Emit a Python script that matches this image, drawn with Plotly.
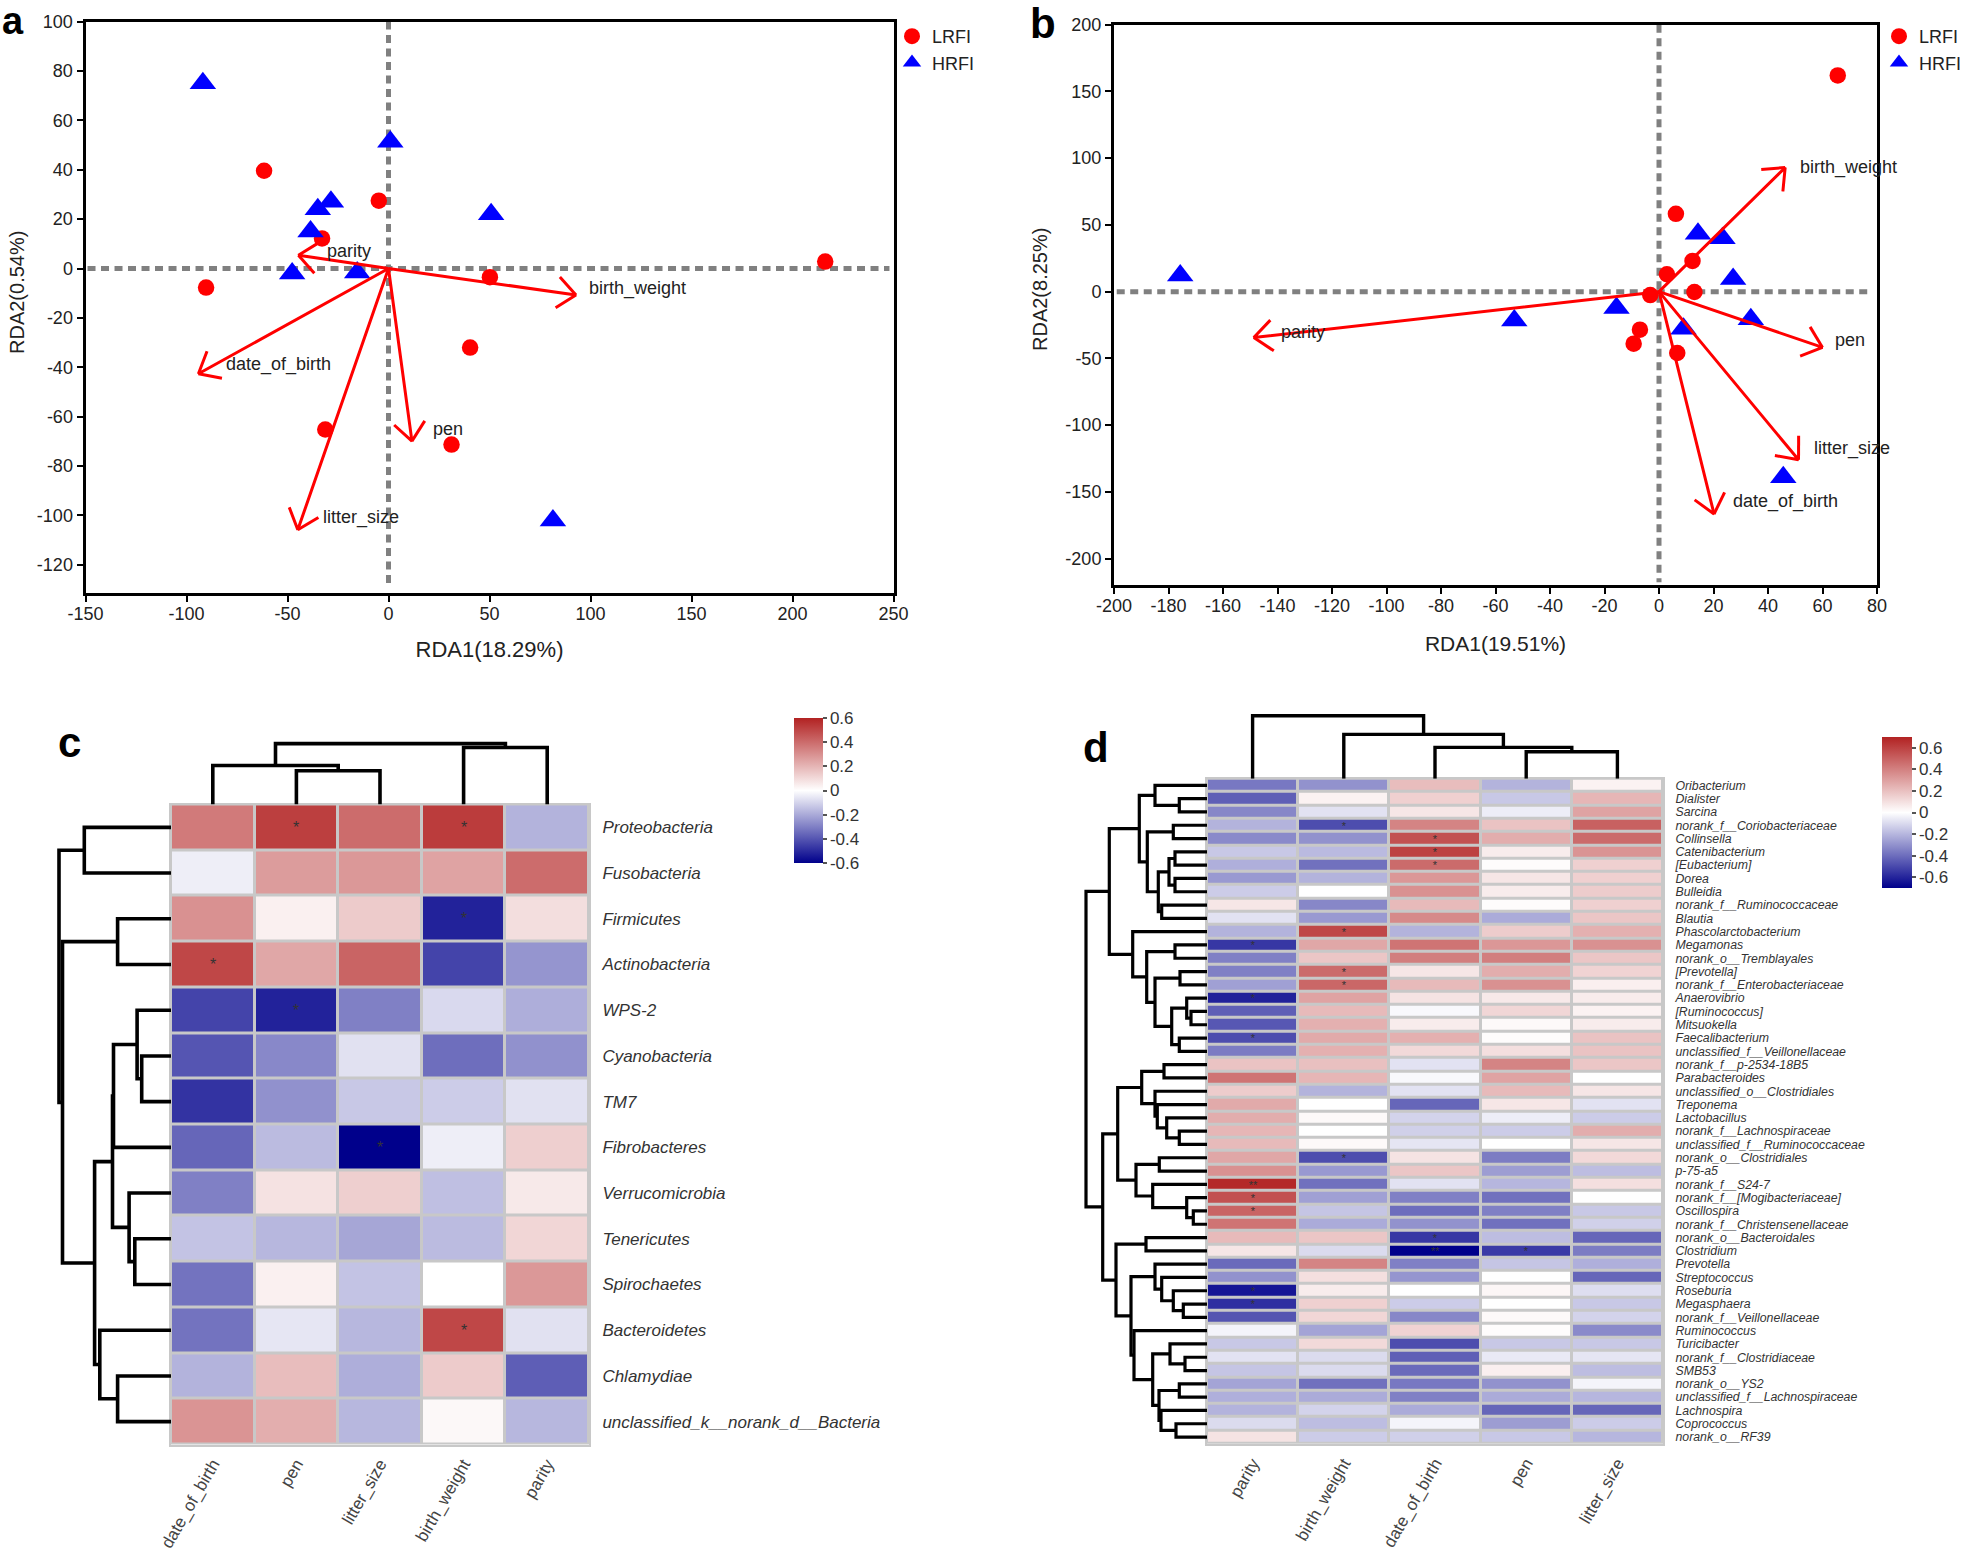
import plotly.graph_objects as go
import math

W, H = 1961, 1552

# ---------- Panel a data ----------
a_lrfi_x = [-61.6, -4.8, -32.9, -90.3, 50.2, 216.2, 40.4, -31.3, 31.2]
a_lrfi_y = [39.6, 27.5, 12.2, -7.7, -3.5, 2.8, -32.0, -65.2, -71.3]
a_hrfi_x = [-91.9, 0.9, -28.5, -35.0, -38.6, 50.8, -47.7, -15.5, 81.4]
a_hrfi_y = [75.0, 51.3, 27.0, 24.0, 15.0, 22.0, -2.0, -1.6, -102.0]
a_vec_names = ["parity", "birth_weight", "date_of_birth", "litter_size", "pen"]
a_vec_x = [-44.6, 92.8, -94.1, -44.9, 11.6]
a_vec_y = [5.4, -10.7, -42.6, -105.8, -69.9]
a_lab_x = [-31.3, 98.1, -81.2, -33.5, 20.8]
a_lab_y = [7.2, -8.2, -38.9, -100.9, -65.0]
a_xticks = [-150, -100, -50, 0, 50, 100, 150, 200, 250]
a_yticks = [100, 80, 60, 40, 20, 0, -20, -40, -60, -80, -100, -120]

# ---------- Panel b data ----------
b_lrfi_x = [65.6, 6.2, 12.3, 2.9, 13.0, -3.2, -7.0, -9.3, 6.7]
b_lrfi_y = [162.0, 58.3, 23.0, 13.0, -0.3, -2.6, -28.5, -39.0, -46.0]
b_hrfi_x = [-175.7, -53.1, -15.6, 14.3, 23.3, 27.2, 33.7, 9.0, 45.6]
b_hrfi_y = [12.0, -21.7, -12.3, 43.4, 40.0, 9.4, -20.7, -27.9, -139.0]
b_vec_names = ["parity", "birth_weight", "litter_size", "date_of_birth", "pen"]
b_vec_x = [-148.7, 46.3, 51.2, 20.2, 60.0]
b_vec_y = [-34.4, 93.0, -126.0, -166.6, -41.8]
b_lab_x = [-139.3, 51.0, 56.2, 26.3, 64.0]
b_lab_y = [-30.5, 92.7, -117.7, -156.9, -36.3]
b_xticks = [-200, -180, -160, -140, -120, -100, -80, -60, -40, -20, 0, 20, 40, 60, 80]
b_yticks = [200, 150, 100, 50, 0, -50, -100, -150, -200]

# ---------- Panel c data ----------
c_cols = ["date_of_birth", "pen", "litter_size", "birth_weight", "parity"]
c_rows = ["Proteobacteria", "Fusobacteria", "Firmicutes", "Actinobacteria", "WPS-2",
          "Cyanobacteria", "TM7", "Fibrobacteres", "Verrucomicrobia", "Tenericutes",
          "Spirochaetes", "Bacteroidetes", "Chlamydiae", "unclassified_k__norank_d__Bacteria"]
c_values = [
    [0.36, 0.52, 0.40, 0.53, -0.18],
    [-0.04, 0.27, 0.28, 0.25, 0.40],
    [0.30, 0.04, 0.14, -0.52, 0.09],
    [0.50, 0.24, 0.42, -0.44, -0.25],
    [-0.44, -0.52, -0.30, -0.09, -0.19],
    [-0.40, -0.28, -0.07, -0.34, -0.26],
    [-0.48, -0.26, -0.13, -0.12, -0.07],
    [-0.36, -0.16, -0.60, -0.04, 0.13],
    [-0.30, 0.08, 0.13, -0.15, 0.06],
    [-0.14, -0.17, -0.21, -0.16, 0.11],
    [-0.33, 0.04, -0.14, 0.00, 0.28],
    [-0.33, -0.06, -0.17, 0.50, -0.07],
    [-0.18, 0.18, -0.19, 0.14, -0.38],
    [0.29, 0.22, -0.17, 0.02, -0.17],
]
c_stars = {(0, 1): "*", (0, 3): "*", (2, 3): "*", (3, 0): "*", (4, 1): "*", (7, 2): "*", (11, 3): "*"}
# dendrograms: (height, left, right); integers are leaves
c_row_tree = (112, (86.7, 0, 1),
              (108.5, (53.4, 2, 3),
               (76.4,
                (58.5, (57.5, (33.9, 4, (29.3, 5, 6)), 7), (41.9, 8, (36.2, 9, 10))),
                (71.2, 11, (53.4, 12, 13)))))
c_col_tree = (60.9, (39, 0, (33.7, 1, 2)), (57, 3, 4))

# ---------- Panel d data ----------
d_cols = ["parity", "birth_weight", "date_of_birth", "pen", "litter_size"]
d_rows = ["Oribacterium", "Dialister", "Sarcina", "norank_f__Coriobacteriaceae", "Collinsella",
          "Catenibacterium", "[Eubacterium]", "Dorea", "Bulleidia", "norank_f__Ruminococcaceae",
          "Blautia", "Phascolarctobacterium", "Megamonas", "norank_o__Tremblayales", "[Prevotella]",
          "norank_f__Enterobacteriaceae", "Anaerovibrio", "[Ruminococcus]", "Mitsuokella",
          "Faecalibacterium", "unclassified_f__Veillonellaceae", "norank_f__p-2534-18B5",
          "Parabacteroides", "unclassified_o__Clostridiales", "Treponema", "Lactobacillus",
          "norank_f__Lachnospiraceae", "unclassified_f__Ruminococcaceae", "norank_o__Clostridiales",
          "p-75-a5", "norank_f__S24-7", "norank_f__[Mogibacteriaceae]", "Oscillospira",
          "norank_f__Christensenellaceae", "norank_o__Bacteroidales", "Clostridium", "Prevotella",
          "Streptococcus", "Roseburia", "Megasphaera", "norank_f__Veillonellaceae", "Ruminococcus",
          "Turicibacter", "norank_f__Clostridiaceae", "SMB53", "norank_o__YS2",
          "unclassified_f__Lachnospiraceae", "Lachnospira", "Coprococcus", "norank_o__RF39"]
d_values = [
    [-0.37, -0.30, 0.21, -0.21, 0.04], [-0.44, 0.04, 0.15, -0.15, 0.23],
    [-0.33, -0.08, 0.08, -0.05, 0.29], [-0.21, -0.49, 0.39, 0.19, 0.50],
    [-0.32, -0.30, 0.55, 0.26, 0.47], [-0.15, -0.19, 0.60, 0.06, 0.34],
    [-0.22, -0.39, 0.47, 0.01, 0.15], [-0.28, -0.21, 0.33, 0.08, 0.15],
    [-0.14, 0.00, 0.35, 0.06, 0.16], [0.08, -0.33, 0.22, 0.01, 0.15],
    [-0.08, -0.28, 0.37, -0.23, 0.18], [-0.21, 0.58, -0.21, 0.16, 0.25],
    [-0.55, 0.28, 0.44, 0.33, 0.35], [-0.35, 0.18, 0.41, 0.41, 0.18],
    [-0.35, 0.47, 0.08, 0.26, 0.14], [-0.26, 0.48, 0.22, 0.35, 0.05],
    [-0.61, 0.29, 0.09, 0.07, 0.06], [-0.44, 0.22, -0.02, 0.13, 0.04],
    [-0.46, 0.25, 0.06, 0.02, 0.06], [-0.49, 0.27, 0.25, 0.01, 0.19],
    [-0.36, 0.25, 0.12, 0.10, 0.19], [0.19, 0.20, -0.08, 0.39, 0.18],
    [0.44, 0.23, -0.02, 0.29, 0.00], [0.16, -0.21, -0.08, 0.22, 0.08],
    [0.27, 0.00, -0.42, 0.08, -0.08], [0.26, 0.02, -0.12, -0.05, -0.14],
    [0.23, 0.00, -0.13, -0.14, 0.26], [0.22, 0.02, -0.07, 0.00, 0.08],
    [0.28, -0.49, 0.09, -0.36, 0.12], [0.35, -0.28, 0.18, -0.27, -0.18],
    [0.68, -0.39, -0.08, -0.20, 0.10], [0.55, -0.26, -0.35, -0.39, 0.00],
    [0.49, -0.16, -0.40, -0.35, -0.15], [0.44, -0.23, -0.30, -0.39, -0.13],
    [0.22, 0.18, -0.55, -0.18, -0.42], [0.08, -0.10, -0.70, -0.54, -0.36],
    [-0.41, 0.39, -0.35, -0.16, -0.22], [-0.30, 0.10, -0.29, 0.00, -0.42],
    [-0.64, 0.06, 0.00, 0.03, -0.09], [-0.57, 0.15, -0.14, 0.00, -0.15],
    [-0.47, 0.13, -0.33, 0.02, -0.12], [-0.03, -0.25, 0.14, 0.01, -0.32],
    [-0.15, 0.12, -0.49, -0.15, -0.15], [-0.08, -0.10, -0.44, -0.06, -0.07],
    [-0.16, -0.10, -0.41, 0.05, -0.18], [-0.25, -0.39, -0.37, -0.30, -0.03],
    [-0.22, -0.23, -0.35, -0.23, -0.20], [-0.21, -0.12, -0.23, -0.42, -0.42],
    [-0.10, -0.18, -0.03, -0.27, -0.14], [0.09, -0.14, -0.13, -0.15, -0.20],
]
d_stars = {(3, 1): "*", (4, 2): "*", (5, 2): "*", (6, 2): "*", (11, 1): "*", (12, 0): "*",
           (14, 1): "*", (15, 1): "*", (16, 0): "*", (19, 0): "*", (28, 1): "*", (30, 0): "**",
           (31, 0): "*", (32, 0): "*", (34, 2): "*", (35, 2): "**", (35, 3): "*", (38, 0): "*",
           (39, 0): "*"}
d_row_tree = (
    121,
    (97.7,
     (67.7, (52, 0, (27.7, 1, 2)),
      (59.7, (33.7, 3, 4),
       (48.7, (38, (32, 5, 6), (32, 7, 8)), (45.3, 9, 10)))),
     (74.3, 11,
      (60.3, (32, 12, 13),
       (52, (27, 14, 15),
        (35.3, (20.3, 16, (16, 17, 18)), (27.7, 19, 20)))))),
    (104.3,
     (89.3,
      (65.3, (43, 21, 22), (52, 23, (49.7, 24, (40.3, 25, (27.7, 26, 27))))),
      (71, (47.7, 28, 29), (54.3, 30, (20.3, 31, (13.7, 32, 33))))),
     (91, (61, 34, 35),
      (76,
       (52, 36, (45.3, 37, (33.7, 38, (23.7, 39, 40)))),
       (73, 41,
        (54.3, (37, 42, (22, 43, 44)),
         (48, (27.7, 45, 46), (46, 47, (31, 48, 49)))))))))
d_col_tree = (63, 0, (44.3, 1, (31.3, 2, (27, 3, 4))))

cbar_vals = [0.6, 0.4, 0.2, 0, -0.2, -0.4, -0.6]
cbar_text = ["0.6", "0.4", "0.2", "0", "-0.2", "-0.4", "-0.6"]

# ---------- Layout geometry (pixels) ----------
FONT = "Liberation Sans"
INK = "#222222"
RED, BLUE = "#FF0000", "#0000FF"
GREY = "#808080"
CELL_BG = "#C8C8C8"
SCALE = [[0, "#00008B"], [0.5, "#FFFFFF"], [1, "#B22222"]]


def dx(a, b):
    return [a / W, b / W]


def dy(top, bottom):
    return [1 - bottom / H, 1 - top / H]


A_BOX = (85.5, 893.5, 21.6, 593)
B_BOX = (1114, 1877, 24.7, 585)
A_RX, A_RY = [-150, 250], [-131.4, 100]
B_RX, B_RY = [-200, 80], [-219.8, 200]
C_BOX = (171, 589, 804.5, 1444.5)
D_BOX = (1207, 1663, 778.7, 1443.7)

fig = go.Figure()


def tree_lines(tree):
    pos, hgt = [], []

    def walk(node):
        if isinstance(node, int):
            return float(node), 0.0
        h, left, right = node
        p1, h1 = walk(left)
        p2, h2 = walk(right)
        pos.extend([p1, p1, p2, p2, None])
        hgt.extend([h1, h, h, h2, None])
        return (p1 + p2) / 2, h

    walk(tree)
    return pos, hgt


def axis_style(rng, ticks, side_domain, anchor, title=None, title_size=21, standoff=10, label_shift=0):
    ax = dict(range=rng, domain=side_domain, anchor=anchor, tickvals=ticks,
              ticktext=[str(t) for t in ticks], showgrid=False, zeroline=False,
              showline=True, mirror=True, linecolor="black", linewidth=3,
              ticks="outside", ticklen=6, tickwidth=2, tickcolor="black",
              ticklabelstandoff=label_shift,
              tickfont=dict(family=FONT, size=18, color=INK))
    if title:
        ax["title"] = dict(text=title, font=dict(family=FONT, size=title_size, color=INK), standoff=standoff)
    return ax


def scatter_panel(box, rx, ry, lrfi, hrfi, vecs, labs, names, xa, ya, legend):
    x0, x1, y0, y1 = box
    sx = (x1 - x0) / (rx[1] - rx[0])
    sy = (y1 - y0) / (ry[1] - ry[0])
    fig.add_trace(go.Scatter(x=lrfi[0], y=lrfi[1], mode="markers", name="LRFI", xaxis=xa, yaxis=ya,
                             legend=legend,
                             marker=dict(symbol="circle", size=16.5, color=RED)))
    fig.add_trace(go.Scatter(x=hrfi[0], y=hrfi[1], mode="markers", name="HRFI", xaxis=xa, yaxis=ya,
                             legend=legend,
                             marker=dict(symbol="triangle-up", size=23, color=BLUE)))
    barb, half = 24, math.radians(40)
    for name, vx, vy in zip(names, vecs[0], vecs[1]):
        px, py = vx * sx, vy * sy
        n = math.hypot(px, py)
        ux, uy = -px / n, -py / n
        xs, ys = [0, vx], [0, vy]
        for sgn in (1, -1):
            c, s = math.cos(sgn * half), math.sin(sgn * half)
            bx = (ux * c - uy * s) * barb / sx
            by = (ux * s + uy * c) * barb / sy
            xs += [vx + bx, vx, None, vx] if sgn == 1 else [vx + bx]
            ys += [vy + by, vy, None, vy] if sgn == 1 else [vy + by]
        fig.add_trace(go.Scatter(x=xs, y=ys, mode="lines", xaxis=xa, yaxis=ya, showlegend=False,
                                 name=name, line=dict(color=RED, width=3)))
    for name, lx, ly in zip(names, labs[0], labs[1]):
        fig.add_annotation(x=lx, y=ly, xref=xa, yref=ya, text=name, showarrow=False, xanchor="left",
                           yanchor="middle", font=dict(family=FONT, size=18, color=INK))
    ref_line = dict(color=GREY, width=5, dash="8px,5.5px")
    fig.add_shape(type="line", xref=xa, yref=ya, x0=rx[0] + 1, x1=rx[1] - 2, y0=0, y1=0,
                  line=ref_line, layer="below")
    fig.add_shape(type="line", xref=xa, yref=ya, x0=0, x1=0, y0=ry[1], y1=ry[0] + 2,
                  line=ref_line, layer="below")


scatter_panel(A_BOX, A_RX, A_RY, (a_lrfi_x, a_lrfi_y), (a_hrfi_x, a_hrfi_y), (a_vec_x, a_vec_y),
              (a_lab_x, a_lab_y), a_vec_names, "x", "y", "legend")
scatter_panel(B_BOX, B_RX, B_RY, (b_lrfi_x, b_lrfi_y), (b_hrfi_x, b_hrfi_y), (b_vec_x, b_vec_y),
              (b_lab_x, b_lab_y), b_vec_names, "x2", "y2", "legend2")


def star_text(stars, rows, cols):
    return [[stars.get((r, c), "") for c in range(len(cols))] for r in range(len(rows))]


def heat(values, rows, cols, stars, xa, ya, zlim, cb_x, cb_top, cb_len, cb_thick, star_size):
    fig.add_trace(go.Heatmap(
        z=values, x=cols, y=rows, xaxis=xa, yaxis=ya, colorscale=SCALE, zmin=-zlim, zmax=zlim,
        xgap=3, ygap=3, text=star_text(stars, rows, cols), texttemplate="%{text}",
        textfont=dict(family=FONT, size=star_size, color="#333333"),
        colorbar=dict(x=cb_x / W, xanchor="left", y=1 - cb_top / H, yanchor="top", lenmode="pixels",
                      len=cb_len, thicknessmode="pixels", thickness=cb_thick, xpad=0, ypad=0,
                      outlinewidth=0, tickmode="array", tickvals=cbar_vals, ticktext=cbar_text,
                      ticks="outside", ticklen=4, tickwidth=2, tickcolor="#555555",
                      tickfont=dict(family=FONT, size=17, color="#333333"))))
    xd, yd = xa + " domain", ya + " domain"
    fig.add_shape(type="rect", xref=xd, yref=yd, x0=0, x1=1, y0=0, y1=1,
                  fillcolor=CELL_BG, line=dict(width=0), layer="below")


heat(c_values, c_rows, c_cols, c_stars, "x3", "y3", 0.6, 794, 718, 145, 29, 16)
heat(d_values, d_rows, d_cols, d_stars, "x6", "y6", 0.7, 1882, 737, 151, 30, 11)


def dendro(tree, xa, ya, horizontal, width):
    pos, hgt = tree_lines(tree)
    x, y = (hgt, pos) if horizontal else (pos, hgt)
    fig.add_trace(go.Scatter(x=x, y=y, mode="lines", xaxis=xa, yaxis=ya, showlegend=False,
                             line=dict(color="black", width=width), hoverinfo="skip"))


dendro(c_row_tree, "x4", "y4", True, 3.6)
dendro(c_col_tree, "x5", "y5", False, 3.6)
dendro(d_row_tree, "x7", "y7", True, 3.2)
dendro(d_col_tree, "x8", "y8", False, 3.4)


def heat_axes(box, rows, cols, tick_size, lab_gap):
    x0, x1, y0, y1 = box
    xax = dict(domain=dx(x0, x1), range=[-0.5, len(cols) - 0.5], type="category",
               tickmode="array", tickvals=cols, ticktext=cols,
               tickangle=-60, ticks="outside", ticklen=1, tickcolor="rgba(0,0,0,0)",
               tickfont=dict(family=FONT, size=17, color="#444444"),
               showgrid=False, zeroline=False, showline=True, mirror=True, linecolor=CELL_BG, linewidth=2)
    yax = dict(domain=dy(y0, y1), range=[len(rows) - 0.5, -0.5], type="category", side="right",
               tickmode="array", tickvals=rows, ticktext=rows,
               ticks="outside", ticklen=lab_gap, tickcolor="rgba(0,0,0,0)",
               tickfont=dict(family=FONT, size=tick_size, color="#333333", style="italic"),
               showgrid=False, zeroline=False, showline=True, mirror=True, linecolor=CELL_BG, linewidth=2)
    return xax, yax


hidden = dict(visible=False, showgrid=False, zeroline=False)

cx3, cy3 = heat_axes(C_BOX, c_rows, c_cols, 17, 8)
cx3["anchor"], cy3["anchor"] = "y3", "x3"
dx6, dy6 = heat_axes(D_BOX, d_rows, d_cols, 12.3, 8)
dx6["anchor"], dy6["anchor"] = "y6", "x6"

layout = dict(
    width=W, height=H, paper_bgcolor="white", plot_bgcolor="white",
    margin=dict(l=0, r=0, t=0, b=0, autoexpand=False, pad=0),
    font=dict(family=FONT, color=INK),
    xaxis=axis_style(A_RX, a_xticks, dx(A_BOX[0], A_BOX[1]), "y", "RDA1(18.29%)", 22, 20, -4),
    yaxis=axis_style(A_RY, a_yticks, dy(A_BOX[2], A_BOX[3]), "x"),
    xaxis2=axis_style(B_RX, b_xticks, dx(B_BOX[0], B_BOX[1]), "y2", "RDA1(19.51%)", 21, 22, -4),
    yaxis2=axis_style(B_RY, b_yticks, dy(B_BOX[2], B_BOX[3]), "x2"),
    xaxis3=cx3, yaxis3=cy3,
    xaxis4=dict(domain=dx(51, C_BOX[0]), range=[120, 0], anchor="y4", **hidden),
    yaxis4=dict(domain=dy(C_BOX[2], C_BOX[3]), range=[len(c_rows) - 0.5, -0.5], anchor="x4", **hidden),
    xaxis5=dict(domain=dx(C_BOX[0], C_BOX[1]), range=[-0.5, len(c_cols) - 0.5], anchor="y5", **hidden),
    yaxis5=dict(domain=dy(C_BOX[2] - 70, C_BOX[2]), range=[0, 70], anchor="x5", **hidden),
    xaxis6=dx6, yaxis6=dy6,
    xaxis7=dict(domain=dx(D_BOX[0] - 125, D_BOX[0]), range=[125, 0], anchor="y7", **hidden),
    yaxis7=dict(domain=dy(D_BOX[2], D_BOX[3]), range=[len(d_rows) - 0.5, -0.5], anchor="x7", **hidden),
    xaxis8=dict(domain=dx(D_BOX[0], D_BOX[1]), range=[-0.5, len(d_cols) - 0.5], anchor="y8", **hidden),
    yaxis8=dict(domain=dy(D_BOX[2] - 70, D_BOX[2]), range=[0, 70], anchor="x8", **hidden),
    legend=dict(x=892 / W, y=1 - 18 / H, xanchor="left", yanchor="top", bgcolor="rgba(0,0,0,0)",
                itemsizing="trace", font=dict(family=FONT, size=18, color=INK)),
    legend2=dict(x=1879 / W, y=1 - 18 / H, xanchor="left", yanchor="top", bgcolor="rgba(0,0,0,0)",
                 itemsizing="trace", font=dict(family=FONT, size=18, color=INK)),
)
fig.update_layout(**layout)

for title, tx, ty in [("RDA2(0.54%)", 17, 293), ("RDA2(8.25%)", 1040, 290)]:
    fig.add_annotation(x=tx / W, y=1 - ty / H, xref="paper", yref="paper", text=title, textangle=-90,
                       showarrow=False, xanchor="center", yanchor="middle",
                       font=dict(family=FONT, size=20, color=INK))

for letter, lx, ly, ls in [("a", 13, 21, 38), ("b", 1043, 24, 42), ("c", 69, 742, 42), ("d", 1096, 747, 42)]:
    fig.add_annotation(x=lx / W, y=1 - ly / H, xref="paper", yref="paper", text=f"<b>{letter}</b>",
                       showarrow=False, xanchor="center", yanchor="middle",
                       font=dict(family=FONT, size=ls, color="black"))

fig.write_html("out.html", config=dict(displayModeBar=False),
               post_script="document.body.style.margin='0';document.body.style.overflow='hidden';")
